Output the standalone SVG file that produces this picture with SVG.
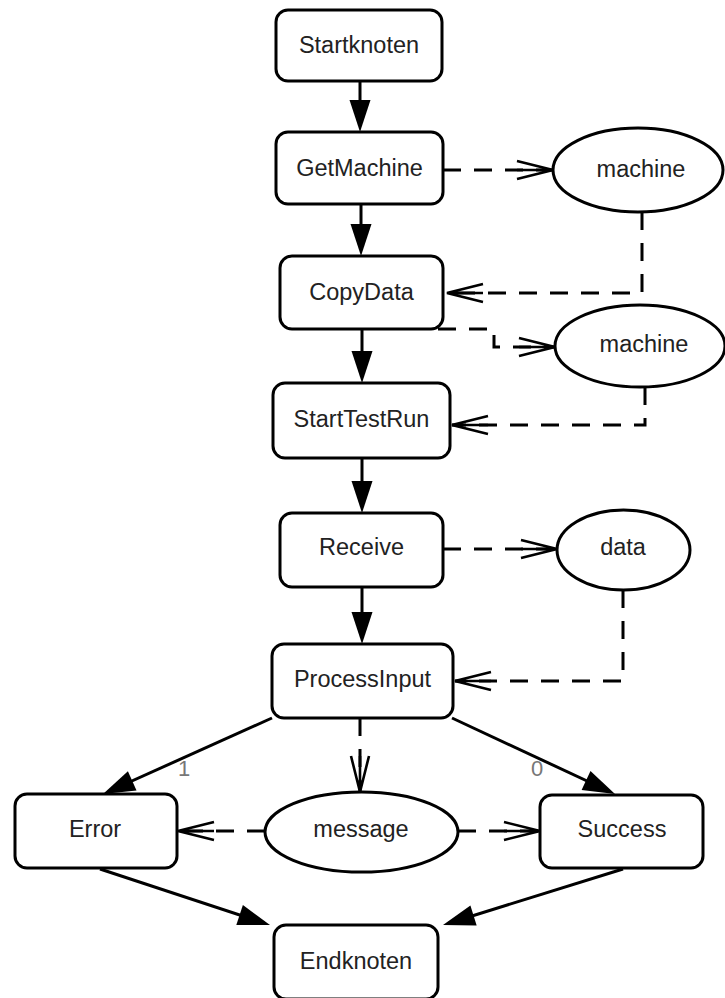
<svg xmlns="http://www.w3.org/2000/svg" width="725" height="998" viewBox="0 0 725 998">
<style>
.box{fill:#fff;stroke:#000;stroke-width:3}
.ell{fill:#fff;stroke:#000;stroke-width:3}
.t{font-family:"Liberation Sans",Arial,sans-serif;font-size:23.5px;fill:#222;text-anchor:middle}
.lbl{font-family:"Liberation Sans",Arial,sans-serif;font-size:22px;fill:#777;text-anchor:middle}
.flow{fill:none;stroke:#000;stroke-width:3;marker-end:url(#tri)}
.dep{fill:none;stroke:#000;stroke-width:3;stroke-dasharray:18 13;marker-end:url(#open)}
</style>
<defs>
<marker id="tri" markerUnits="userSpaceOnUse" viewBox="-27 -11 34 22" markerWidth="34" markerHeight="22" refX="0" refY="0" orient="auto">
<path d="M6,0 L-26,-10.5 L-26,10.5 Z" fill="#000"/>
</marker>
<marker id="open" markerUnits="userSpaceOnUse" viewBox="-38 -11 40 22" markerWidth="40" markerHeight="22" refX="0" refY="0" orient="auto">
<path d="M-36,-9 L0,0 L-36,9 M-36,0 L0,0" fill="none" stroke="#000" stroke-width="2.6"/>
</marker>
</defs>
<g id="connectors">
<path class="flow" d="M360,81 V126"/>
<path class="flow" d="M361,204 V250"/>
<path class="flow" d="M362,329 V377"/>
<path class="flow" d="M362,458 V507"/>
<path class="flow" d="M362,587 V638"/>
<path class="flow" d="M272,718 L108.5,791.5"/>
<path class="flow" d="M452,718 L609.6,791.5"/>
<path class="flow" d="M100,869 L264.3,923.1"/>
<path class="flow" d="M623,869 L448.7,923.2"/>
<path class="dep" d="M443,170 H553"/>
<path class="dep" d="M642,212 V293 H447"/>
<path class="dep" d="M438,329 H494 V347 H555"/>
<path class="dep" d="M645,387 V425 H452"/>
<path class="dep" d="M443,549 H557"/>
<path class="dep" d="M623,590 V681 H455"/>
<path class="dep" d="M360,718 V792"/>
<path class="dep" d="M265,831 H178"/>
<path class="dep" d="M458,831 H540"/>
<text class="lbl" x="184" y="776">1</text>
<text class="lbl" x="537" y="776">0</text>
</g>
<g id="Startknoten"><rect class="box" x="276" y="10" width="166" height="71" rx="12"/><text class="t" x="359" y="53">Startknoten</text></g>
<g id="GetMachine"><rect class="box" x="276" y="132" width="167" height="72" rx="12"/><text class="t" x="359.5" y="176">GetMachine</text></g>
<g id="CopyData"><rect class="box" x="280" y="256" width="163" height="73" rx="12"/><text class="t" x="361.5" y="300">CopyData</text></g>
<g id="StartTestRun"><rect class="box" x="273" y="383" width="177" height="75" rx="12"/><text class="t" x="361.5" y="427">StartTestRun</text></g>
<g id="Receive"><rect class="box" x="280" y="513" width="163" height="74" rx="12"/><text class="t" x="361.5" y="555">Receive</text></g>
<g id="ProcessInput"><rect class="box" x="272" y="644" width="181" height="74" rx="12"/><text class="t" x="362.5" y="687">ProcessInput</text></g>
<g id="Error"><rect class="box" x="15" y="794" width="162" height="74" rx="12"/><text class="t" x="95" y="837">Error</text></g>
<g id="Success"><rect class="box" x="540" y="795" width="163" height="73" rx="12"/><text class="t" x="622" y="837">Success</text></g>
<g id="Endknoten"><rect class="box" x="274" y="925" width="164" height="74" rx="12"/><text class="t" x="356" y="969">Endknoten</text></g>
<g id="machine1"><ellipse class="ell" cx="638" cy="170" rx="85" ry="42"/><text class="t" x="641" y="177">machine</text></g>
<g id="machine2"><ellipse class="ell" cx="640" cy="346" rx="85" ry="41"/><text class="t" x="644" y="352">machine</text></g>
<g id="data"><ellipse class="ell" cx="623.5" cy="550" rx="66.5" ry="40"/><text class="t" x="623" y="555">data</text></g>
<g id="message"><ellipse class="ell" cx="361.5" cy="832" rx="96.5" ry="40"/><text class="t" x="361" y="837">message</text></g>
</svg>
